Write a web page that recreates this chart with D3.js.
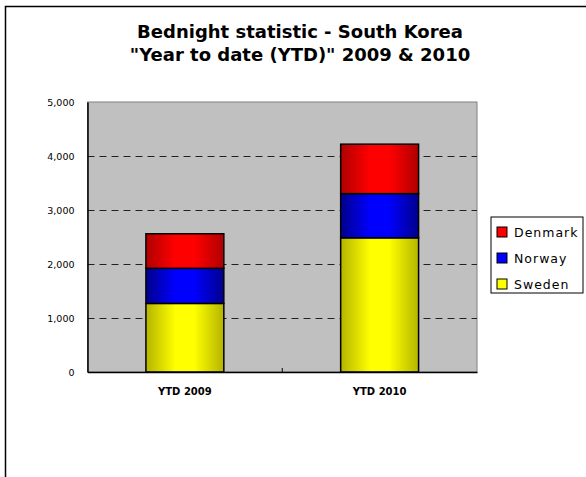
<!DOCTYPE html>
<html>
<head>
<meta charset="utf-8">
<script src="https://cdn.jsdelivr.net/npm/d3@7"></script>
<style>
  body { margin: 0; background: #fff; }
  svg { display: block; font-family: "DejaVu Sans", Verdana, sans-serif; }
</style>
</head>
<body>
<svg width="586" height="477"></svg>
<script>
var categories = ["YTD 2009", "YTD 2010"];
var seriesNames = ["Sweden", "Norway", "Denmark"];
var sweden = [1270, 2485];
var norway = [650, 818];
var denmark = [640, 916];
var yTicks = [0, 1000, 2000, 3000, 4000, 5000];

var colors = {
  Sweden: {dark: "#b4b400", light: "#ffff00"},
  Norway: {dark: "#00008c", light: "#0000ff"},
  Denmark: {dark: "#b00000", light: "#ff0000"}
};

var svg = d3.select("svg"),
    margin = {top: 102, left: 87.5, right: 109, bottom: 105},
    width = 586 - margin.left - margin.right,
    height = 477 - margin.top - margin.bottom;

var data = categories.map(function(c, i) {
  return {cat: c, Sweden: sweden[i], Norway: norway[i], Denmark: denmark[i]};
});
var stacked = d3.stack().keys(seriesNames)(data);

var x = d3.scaleBand().domain(categories).range([0, width])
    .paddingInner(0.6).paddingOuter(0.3);
var y = d3.scaleLinear().domain([0, 5000]).range([height, 0]);

// gradients
var defs = svg.append("defs");
seriesNames.forEach(function(s) {
  var g = defs.append("linearGradient").attr("id", "grad-" + s)
      .attr("x1", "0%").attr("x2", "100%").attr("y1", "0%").attr("y2", "0%");
  g.append("stop").attr("offset", "0%").attr("stop-color", colors[s].dark);
  g.append("stop").attr("offset", "38%").attr("stop-color", colors[s].light);
  g.append("stop").attr("offset", "62%").attr("stop-color", colors[s].light);
  g.append("stop").attr("offset", "100%").attr("stop-color", colors[s].dark);
});

// outer frame
svg.append("path")
    .attr("d", "M5.5,477 L5.5,6.5 L586,6.5")
    .attr("fill", "none").attr("stroke", "#000").attr("stroke-width", 1.5);

// title
var title = svg.append("text")
    .attr("text-anchor", "middle")
    .style("font-size", "18px").style("font-weight", "bold");
title.append("tspan").attr("x", 300).attr("y", 38).text("Bednight statistic - South Korea");
title.append("tspan").attr("x", 300).attr("y", 61).text("\"Year to date (YTD)\" 2009 & 2010");

var g = svg.append("g").attr("transform", "translate(" + margin.left + "," + margin.top + ")");

g.append("rect").attr("width", width).attr("height", height)
    .attr("fill", "#c0c0c0").attr("stroke", "#808080").attr("stroke-width", 1);

// dashed gridlines
g.selectAll(".grid").data(yTicks.filter(function(d) { return d > 0 && d < 5000; }))
  .enter().append("line")
    .attr("x1", 0).attr("x2", width)
    .attr("y1", function(d) { return Math.round(y(d)) + 0.5; })
    .attr("y2", function(d) { return Math.round(y(d)) + 0.5; })
    .attr("stroke", "#222").attr("stroke-dasharray", "7,5");

// bars
g.selectAll(".series").data(stacked).enter().append("g")
    .attr("fill", function(d) { return "url(#grad-" + d.key + ")"; })
  .selectAll("rect").data(function(d) { return d; })
  .enter().append("rect")
    .attr("x", function(d) { return x(d.data.cat); })
    .attr("width", x.bandwidth())
    .attr("y", function(d) { return y(d[1]); })
    .attr("height", function(d) { return y(d[0]) - y(d[1]); })
    .attr("stroke", "#000").attr("stroke-width", 1.5);

// axes
var yAxis = d3.axisLeft(y).tickValues(yTicks).tickSize(0).tickPadding(13)
    .tickFormat(d3.format(","));
var yg = g.append("g").call(yAxis)
    .attr("font-family", null).attr("font-size", null);
yg.select(".domain").attr("stroke", "#000").attr("stroke-width", 1.5);
yg.selectAll("text").style("font-size", "9.5px").attr("fill", "#000");

var xg = g.append("g").attr("transform", "translate(0," + height + ")")
    .call(d3.axisBottom(x).tickSize(0).tickPadding(16))
    .attr("font-family", null).attr("font-size", null);
xg.select(".domain").attr("stroke", "#000").attr("stroke-width", 1.5);
xg.selectAll("text").style("font-size", "10px").style("font-weight", "bold").attr("fill", "#000");
// category separator tick
xg.append("line").attr("x1", width / 2).attr("x2", width / 2)
    .attr("y1", 0).attr("y2", -4).attr("stroke", "#000");

// legend
var legend = svg.append("g").attr("transform", "translate(491,217)");
legend.append("rect").attr("width", 92).attr("height", 76)
    .attr("fill", "#fff").attr("stroke", "#000").attr("stroke-width", 1);
var items = legend.selectAll(".item").data(seriesNames.slice().reverse())
  .enter().append("g")
    .attr("transform", function(d, i) { return "translate(6," + (15 + i * 26) + ")"; });
items.append("rect").attr("x", 0).attr("y", -5).attr("width", 10).attr("height", 10)
    .attr("fill", function(d) { return colors[d].light; })
    .attr("stroke", "#000").attr("stroke-width", 1);
items.append("text").attr("x", 17).attr("y", 4.5)
    .style("font-size", "12.5px").style("letter-spacing", "1px")
    .text(function(d) { return d; });
</script>
</body>
</html>
